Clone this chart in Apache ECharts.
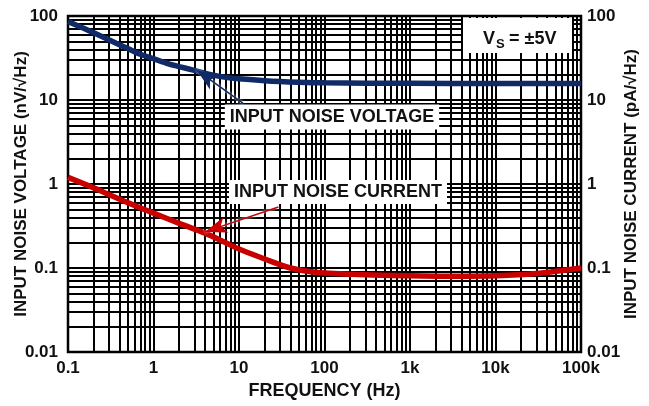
<!DOCTYPE html>
<html>
<head>
<meta charset="utf-8">
<script src="https://cdn.jsdelivr.net/npm/echarts@6/dist/echarts.min.js"></script>
<style>
  html, body { margin: 0; padding: 0; background: #fff; }
  #chart { width: 649px; height: 406px; }
</style>
</head>
<body>
<div id="chart"></div>
<script>
// tick labels
var xTickLabels = ['0.1', '1', '10', '100', '1k', '10k', '100k']
var yTickLabels = ['0.01', '0.1', '1', '10', '100']

// input noise voltage (nV/rtHz)
var freqV = [0.1, 0.15, 0.2, 0.3, 0.5, 0.7, 1, 1.5, 2, 3, 5, 7, 10, 20, 50, 100, 1000, 10000, 100000]
var noiseVoltage = [86, 72, 63, 52, 41, 35, 31, 27, 25, 22.5, 19.8, 18.6, 17.9, 17, 16.3, 16, 15.8, 15.7, 15.7]

// input noise current (pA/rtHz)
var freqI = [0.1, 0.2, 0.3, 0.5, 1, 2, 4, 7, 10, 20, 40, 70, 100, 300, 1000, 3000, 10000, 30000, 100000]
var noiseCurrent = [1.2, 0.9, 0.75, 0.6, 0.45, 0.34, 0.26, 0.2, 0.168, 0.128, 0.1, 0.09, 0.087, 0.083, 0.081, 0.08, 0.081, 0.086, 0.1]

// annotation arrows: [tail, tip] in data units
var voltageArrow = [[11.1, 9.2], [3.2, 22.7]]
var currentArrow = [[28.9, 0.533], [4.0, 0.269]]

var BLUE = '#0f2a66'
var RED = '#c80000'

// grid lines at 1..9 x each decade
function decadeLines(fromExp, toExp) {
  var out = []
  for (var e = fromExp; e < toExp; e++) {
    for (var m = 1; m <= 9; m++) {
      out.push(+(m * Math.pow(10, e)).toPrecision(3))
    }
  }
  return out
}
var gridLines = []
decadeLines(-1, 5).forEach(function(v) { gridLines.push({ xAxis: v }) })
decadeLines(-2, 2).forEach(function(v) { gridLines.push({ yAxis: v }) })

var labelFont = {
  color: '#111',
  fontFamily: 'Liberation Sans, Arial, sans-serif',
  fontWeight: 'bold',
  fontSize: 17
}
var nameFont = {
  color: '#111',
  fontFamily: 'Liberation Sans, Arial, sans-serif',
  fontWeight: 'bold',
  fontSize: 18
}
var sideNameFont = Object.assign({}, nameFont, {
  fontFamily: 'Liberation Sans Narrow, Arial Narrow, Liberation Sans, sans-serif',
  fontSize: 17
})

function yAxisOpt(name, pos, gap, margin) {
  return {
    type: 'log',
    logBase: 10,
    min: 0.01,
    max: 100,
    position: pos,
    name: name,
    nameLocation: 'middle',
    nameRotate: 90,
    nameGap: gap,
    nameMoveOverlap: false,
    nameTextStyle: sideNameFont,
    axisLine: { show: false },
    axisTick: { show: false },
    splitLine: { show: false },
    axisLabel: Object.assign({
      margin: margin,
      formatter: function(v) {
        return yTickLabels[Math.round(Math.log10(v)) + 2]
      }
    }, labelFont)
  }
}

var chart = echarts.init(document.getElementById('chart'), null, { renderer: 'canvas' })

chart.setOption({
  animation: false,
  backgroundColor: '#fff',
  grid: {
    left: 68,
    right: 68,
    top: 16,
    bottom: 54,
    containLabel: false,
    outerBoundsMode: 'none',
    show: true,
    backgroundColor: '#fff',
    borderColor: '#000',
    borderWidth: 2.5
  },
  xAxis: {
    type: 'log',
    logBase: 10,
    min: 0.1,
    max: 100000,
    name: 'FREQUENCY (Hz)',
    nameLocation: 'middle',
    nameGap: 30,
    nameMoveOverlap: false,
    nameTextStyle: nameFont,
    axisLine: { show: false },
    axisTick: { show: false },
    splitLine: { show: false },
    axisLabel: Object.assign({
      margin: 8,
      formatter: function(v) {
        return xTickLabels[Math.round(Math.log10(v)) + 1]
      }
    }, labelFont)
  },
  yAxis: [
    yAxisOpt('INPUT NOISE VOLTAGE (nV/\u221AHz)', 'left', 38, 10),
    yAxisOpt('INPUT NOISE CURRENT (pA/\u221AHz)', 'right', 42, 6)
  ],
  series: [
    {
      name: 'grid',
      type: 'line',
      data: [],
      silent: true,
      z: 1,
      markLine: {
        z: 1,
        silent: true,
        symbol: ['none', 'none'],
        label: { show: false },
        lineStyle: { color: '#000', width: 2, type: 'solid' },
        data: gridLines
      }
    },
    {
      name: 'INPUT NOISE VOLTAGE',
      type: 'line',
      yAxisIndex: 0,
      z: 3,
      smooth: 0.3,
      showSymbol: false,
      lineStyle: { color: BLUE, width: 5.5 },
      itemStyle: { color: BLUE },
      data: freqV.map(function(f, i) { return [f, noiseVoltage[i]] }),
      markLine: {
        z: 6,
        silent: true,
        symbol: ['none', 'arrow'],
        symbolSize: [12, 22],
        label: { show: false },
        lineStyle: { color: BLUE, width: 1.5, type: 'solid', shadowColor: '#fff', shadowBlur: 3 },
        data: [[{ coord: voltageArrow[0] }, { coord: voltageArrow[1] }]]
      }
    },
    {
      name: 'INPUT NOISE CURRENT',
      type: 'line',
      yAxisIndex: 1,
      z: 3,
      smooth: 0.3,
      showSymbol: false,
      lineStyle: { color: RED, width: 5.5 },
      itemStyle: { color: RED },
      data: freqI.map(function(f, i) { return [f, noiseCurrent[i]] }),
      markLine: {
        z: 6,
        silent: true,
        symbol: ['none', 'arrow'],
        symbolSize: [12, 22],
        label: { show: false },
        lineStyle: { color: RED, width: 1.5, type: 'solid', shadowColor: '#fff', shadowBlur: 3 },
        data: [[{ coord: currentArrow[0] }, { coord: currentArrow[1] }]]
      }
    }
  ],
  graphic: [
    {
      type: 'text',
      z: 100,
      x: 332,
      y: 117,
      style: Object.assign({
        text: 'INPUT NOISE VOLTAGE',
        align: 'center',
        verticalAlign: 'middle',
        backgroundColor: '#fff',
        padding: [4, 5, 3, 5]
      }, nameFont, { fill: '#111' })
    },
    {
      type: 'text',
      z: 100,
      x: 338,
      y: 192,
      style: Object.assign({
        text: 'INPUT NOISE CURRENT',
        align: 'center',
        verticalAlign: 'middle',
        backgroundColor: '#fff',
        padding: [3, 5, 3, 5]
      }, nameFont, { fill: '#111' })
    },
    {
      type: 'rect',
      z: 100,
      shape: { x: 463, y: 18, width: 109, height: 35 },
      style: { fill: '#fff' }
    },
    {
      type: 'text', z: 101, x: 483, y: 39,
      style: Object.assign({ text: 'V', verticalAlign: 'middle' }, nameFont, { fill: '#111' })
    },
    {
      type: 'text', z: 101, x: 496, y: 44,
      style: Object.assign({ text: 'S', verticalAlign: 'middle' }, nameFont, { fontSize: 13, fill: '#111' })
    },
    {
      type: 'text', z: 101, x: 509, y: 39,
      style: Object.assign({ text: '= \u00B15V', verticalAlign: 'middle' }, nameFont, { fill: '#111' })
    }
  ]
})
</script>
</body>
</html>
